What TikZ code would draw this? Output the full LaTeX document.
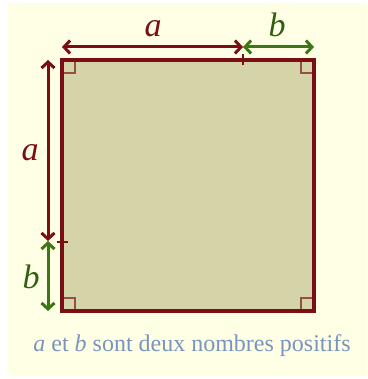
\documentclass[tikz,border=0pt]{standalone}
\usepackage{fontspec}
\setmainfont{Liberation Serif}
\usetikzlibrary{arrows.meta}

\definecolor{sqred}{RGB}{122,14,18}
\definecolor{sqgreen}{RGB}{60,118,22}
\definecolor{sqfill}{RGB}{212,212,168}
\definecolor{paper}{RGB}{255,255,230}
\definecolor{markred}{RGB}{150,78,70}
\definecolor{capblue}{RGB}{122,148,192}

\begin{document}
\begin{tikzpicture}[
  x=1pt, y=-1pt,
  every node/.style={inner sep=0pt},
  arr/.style={{Straight Barb[length=6pt,width=13pt]}-{Straight Barb[length=6pt,width=13pt]},
    line width=3pt},
  lbl/.style={font=\fontsize{34}{34}\selectfont\itshape},
  rmark/.style={draw=markred, line width=1.5pt},
]
\useasboundingbox (0,0) rectangle (367,379);
\fill[paper] (8,3) rectangle (367,376);

%% Square a+b
\coordinate (TL) at (62,60);
\coordinate (TR) at (314,60);
\coordinate (BR) at (314,311);
\coordinate (BL) at (62,311);
\fill[sqfill] (TL) rectangle (BR);

%% Right angle marks
\draw[rmark] (TL) rectangle ++(13,13);
\draw[rmark] (TR) rectangle ++(-13,13);
\draw[rmark] (BR) rectangle ++(-13,-13);
\draw[rmark] (BL) rectangle ++(13,-13);

\draw[draw=sqred, line width=3.2pt] (TL) -- (TR) -- (BR) -- (BL) -- cycle;

%% Ticks where a meets b
\coordinate (ttop) at (243,60);
\coordinate (tleft) at (62,242);
\draw[sqred, line width=2.8pt] ([yshift=-5.5pt]ttop) -- ([yshift=6pt]ttop);
\draw[sqred, line width=2.8pt] ([xshift=-5.5pt]tleft) -- ([xshift=6pt]tleft);

%% Top arrows
\coordinate (h0) at (62,47);
\coordinate (h1) at (243,47);
\coordinate (h2) at (314,47);
\draw[arr, sqred] (h0) -- (h1);
\draw[arr, sqgreen] (h1) -- (h2);

%% Left arrows
\coordinate (v0) at (48,60);
\coordinate (v1) at (48,241);
\coordinate (v2) at (48,311);
\draw[arr, sqred] (v0) -- (v1);
\draw[arr, sqgreen] (v1) -- (v2);

%% Labels
\node[lbl, text=sqred] (la) at (153,29) {a};
\node[lbl, text=sqgreen!80!black] (lb) at (277,25) {b};
\node[lbl, text=sqred] (ma) at (30,153) {a};
\node[lbl, text=sqgreen!80!black] (mb) at (31,277) {b};

\node[text=capblue, font=\fontsize{24}{26}\selectfont] (cap) at (192,346)
  {\textit{a} et \textit{b} sont deux nombres positifs};

\end{tikzpicture}
\end{document}
